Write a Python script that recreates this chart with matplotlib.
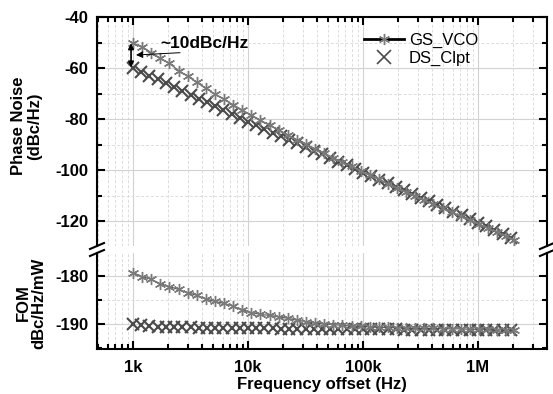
import matplotlib
matplotlib.use("Agg")
import matplotlib.pyplot as plt
from matplotlib.lines import Line2D
from matplotlib.ticker import MultipleLocator, LogLocator, NullFormatter

plt.rcParams['font.family'] = ['Liberation Sans', 'DejaVu Sans']
plt.rcParams['axes.unicode_minus'] = False

# GS_VCO data
gs_freq = [1000, 1200, 1440, 1730, 2070, 2490, 2990, 3580, 4300, 5160, 6190, 7430, 8920,
           10700, 12800, 15400, 18500, 22200, 26600, 31900, 38300, 46000, 55200, 66200, 79500, 95400,
           114000, 137000, 165000, 198000, 237000, 285000, 342000, 410000, 492000, 591000, 709000, 850000,
           1020000, 1220000, 1470000, 1760000, 2070000]
gs_pn = [-50.3, -51.6, -54.0, -56.2, -58.2, -61.0, -63.2, -65.6, -68.0, -70.2, -72.3, -74.4, -76.5,
         -78.5, -80.5, -82.4, -84.4, -86.3, -88.1, -89.9, -91.7, -93.5, -95.2, -96.9, -98.6, -100.4,
         -102.0, -103.6, -105.3, -106.9, -108.5, -110.2, -111.8, -113.4, -115.0, -116.6, -118.2, -119.8,
         -121.2, -122.7, -124.3, -125.9, -127.3]
gs_fom = [-179.3, -180.1, -180.7, -181.6, -182.2, -182.8, -183.5, -184.0, -184.8, -185.3, -185.7, -186.3, -187.0,
          -187.6, -188.0, -188.2, -188.5, -188.8, -189.2, -189.5, -189.8, -190.0, -190.1, -190.3, -190.4, -190.5,
          -190.6, -190.7, -190.7, -190.8, -190.8, -190.9, -190.9, -190.9, -191.0, -191.0, -191.0, -191.1,
          -191.1, -191.1, -191.2, -191.2, -191.2]

# DS_Clpt data
ds_freq = [1000, 1179, 1389, 1638, 1931, 2276, 2683, 3162, 3728, 4394, 5179, 6105, 7197, 8483,
           10000, 11790, 13890, 16380, 19310, 22760, 26830, 31620, 37280, 43940, 51790, 61050, 71970, 84830,
           100000, 117900, 138900, 163800, 193100, 227600, 268300, 316200, 372800, 439400, 517900, 610500,
           719700, 848300, 1000000, 1179000, 1389000, 1638000, 1931000]
ds_pn = [-60.0, -61.5, -63.0, -64.5, -66.0, -67.5, -69.0, -70.5, -72.0, -73.5, -75.0, -76.5, -78.0, -79.5,
         -81.0, -82.4, -83.9, -85.3, -86.7, -88.2, -89.6, -91.0, -92.5, -93.9, -95.3, -96.7, -98.2, -99.6,
         -101.0, -102.4, -103.8, -105.2, -106.6, -108.0, -109.4, -110.8, -112.2, -113.6, -114.9, -116.3,
         -117.7, -119.1, -120.6, -122.1, -123.6, -125.2, -126.8]
ds_fom = [-189.9, -190.3, -190.5, -190.6, -190.6, -190.7, -190.7, -190.7, -190.8, -190.8, -190.8, -190.8, -190.9, -190.9,
          -190.9, -190.9, -190.9, -190.9, -191.0, -191.0, -191.0, -191.0, -191.0, -191.0, -191.0, -191.0, -191.1, -191.1,
          -191.1, -191.1, -191.1, -191.1, -191.1, -191.2, -191.2, -191.2, -191.2, -191.2, -191.2, -191.2,
          -191.3, -191.3, -191.3, -191.3, -191.3, -191.3, -191.3]

x_ticks = [1e3, 1e4, 1e5, 1e6]
x_labels = ['1k', '10k', '100k', '1M']

W, H = 553, 394
fig = plt.figure(figsize=(W / 100, H / 100), dpi=100)


def box(x0, y0, x1, y1):
    return [x0 / W, 1 - y1 / H, (x1 - x0) / W, (y1 - y0) / H]


ax1 = fig.add_axes(box(97, 17, 547, 246))
ax2 = fig.add_axes(box(97, 253, 547, 349))

ax1.set_ylim(-129.8, -40)
ax2.set_ylim(-195.2, -175.2)
ax1.yaxis.set_major_locator(MultipleLocator(20))
ax1.yaxis.set_minor_locator(MultipleLocator(10))
ax2.yaxis.set_major_locator(MultipleLocator(10))
ax2.yaxis.set_minor_locator(MultipleLocator(5))

gs_style = dict(color='#555555', lw=0.8, marker=(6, 2, 0), ms=8, mec='#7a7a7a', mew=1.0, zorder=3)
ds_style = dict(ls='none', marker='x', ms=9, mec='#4a4a4a', mew=1.5, zorder=2)

ax1.plot(gs_freq, gs_pn, **gs_style)
ax1.plot(ds_freq, ds_pn, **ds_style)
ax2.plot(gs_freq, gs_fom, **gs_style)
ax2.plot(ds_freq, ds_fom, **ds_style)

for ax in (ax1, ax2):
    ax.set_xscale('log')
    ax.set_xlim(486, 3.98e6)
    ax.xaxis.set_major_locator(LogLocator(base=10))
    ax.xaxis.set_minor_locator(LogLocator(base=10, subs=range(2, 10)))
    ax.xaxis.set_minor_formatter(NullFormatter())
    ax.grid(which='major', color='#d2d2d2', lw=0.8, ls='-')
    ax.grid(which='minor', color='#dcdcdc', lw=0.7, ls=(0, (3, 2)))
    ax.set_axisbelow(True)
    ax.tick_params(which='both', direction='in', width=1.5, labelsize=12, right=True, pad=6)
    ax.tick_params(which='major', length=6)
    ax.tick_params(which='minor', length=3.5)
    for s in ax.spines.values():
        s.set_linewidth(1.5)

ax1.spines['bottom'].set_visible(False)
ax2.spines['top'].set_visible(False)
ax1.tick_params(axis='x', which='both', bottom=False, top=True, labelbottom=False)
ax2.tick_params(axis='x', which='both', top=False, bottom=True, pad=8)
ax2.set_xticks(x_ticks)
ax2.set_xticklabels(x_labels)
for ax in (ax1, ax2):
    for lbl in ax.get_xticklabels() + ax.get_yticklabels():
        lbl.set_fontweight('bold')

# ~10 dBc/Hz annotation
ax1.annotate('', xy=(961, -50.3), xytext=(961, -59.8),
             arrowprops=dict(arrowstyle='<|-|>', color='black', lw=1.2, mutation_scale=8, shrinkA=0, shrinkB=0))
ax1.annotate('', xy=(1062, -54.9), xytext=(2564, -54.0),
             arrowprops=dict(arrowstyle='-|>', color='black', lw=0.7, mutation_scale=10, shrinkA=0, shrinkB=0))
ax1.text(1717, -50.2, '~10dBc/Hz', fontsize=12.5, fontweight='bold', ha='left', va='center')

# axis break marks
for xs in (97, 547):
    for yc in (246, 253):
        fig.add_artist(Line2D([(xs - 7) / W, (xs + 7) / W], [1 - (yc + 3) / H, 1 - (yc - 3) / H],
                              color='black', lw=1.5, transform=fig.transFigure))

fig.text(27 / W, 1 - 126 / H, 'Phase Noise\n(dBc/Hz)', rotation=90, ha='center', va='center',
         fontsize=12, fontweight='bold', multialignment='center', linespacing=1.1)
fig.text(31 / W, 1 - 303 / H, 'FOM\ndBc/Hz/mW', rotation=90, ha='center', va='center',
         fontsize=12, fontweight='bold', multialignment='center', linespacing=1.1)
fig.text(322 / W, 1 - 384 / H, 'Frequency offset (Hz)', ha='center', va='center',
         fontsize=12, fontweight='bold')

handles = [Line2D([], [], color='black', lw=2, marker=(6, 2, 0), ms=8, mec='#7a7a7a', mew=1.0),
           Line2D([], [], ls='none', marker='x', ms=10, mec='#4a4a4a', mew=1.2)]
ax1.legend(handles, ['GS_VCO', 'DS_Clpt'], loc='upper left', bbox_to_anchor=(364 / W, 1 - 33 / H),
           bbox_transform=fig.transFigure, frameon=False, fontsize=12, handlelength=2.4,
           handletextpad=0.3, labelspacing=0.15, borderpad=0, borderaxespad=0)

fig.savefig('out.png', dpi=100)
